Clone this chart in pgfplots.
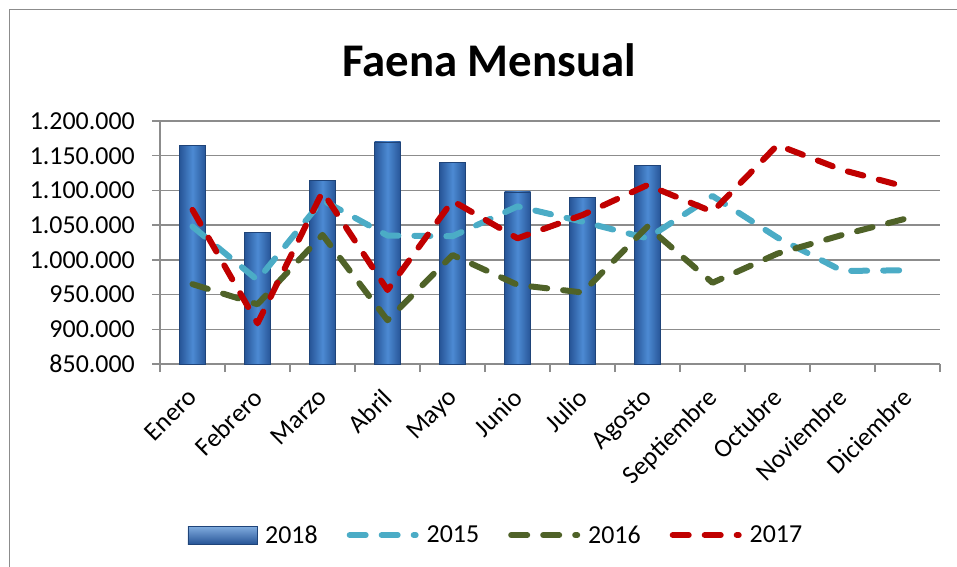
\documentclass[border=0pt]{standalone}
\usepackage{pgfplots}
\pgfplotsset{compat=1.18}
\usepackage{fontspec}
\setmainfont{Carlito}
\definecolor{c2015}{HTML}{4BACC6}
\definecolor{c2016}{HTML}{4F6228}
\definecolor{c2017}{HTML}{C00000}
\definecolor{bardark}{HTML}{275597}
\definecolor{barlight}{HTML}{4C8AD3}
\definecolor{gridc}{HTML}{8C8C8C}
\pgfplotsset{
  barsty/.style={ybar, bar width=26bp, draw=bardark!80!black, line width=0.4bp,
    left color=bardark, right color=bardark, middle color=barlight},
  linesty/.style={#1, line width=6bp, dash pattern=on 16bp off 16bp, line cap=round, line join=round, mark=none,
    legend image code/.code={\draw[#1, line width=6bp, dash pattern=on 16bp off 16bp, line cap=round] (3bp,0bp) -- (69bp,0bp);}},
}
\begin{document}
\begin{tikzpicture}
\useasboundingbox (0bp,0bp) rectangle (957bp,567bp);
\draw[gridc, line width=1.5bp] (9.5bp,-50bp) rectangle (1010bp,557.5bp);
\node[font=\fontsize{47}{56}\selectfont\bfseries] at (489bp,507bp) {Faena Mensual};
\begin{axis}[
  at={(160bp,203bp)}, anchor=south west,
  scale only axis, width=780bp, height=243bp,
  xmin=-0.5, xmax=11.5, ymin=850000, ymax=1200000,
  enlargelimits=false,
  axis lines=left, axis line style={-, draw=gridc, line width=1.5bp},
  ytick={850000,900000,...,1200000},
  scaled y ticks=false,
  yticklabel style={/pgf/number format/fixed, /pgf/number format/precision=0, /pgf/number format/1000 sep={.}, /pgf/number format/assume math mode=true},
  ymajorgrids, major grid style={draw=gridc, line width=1.5bp},
  tick align=outside, major tick length=8bp,
  tick style={draw=gridc, line width=1.5bp},
  xtick={-0.5,0.5,...,11.5},
  x tick label as interval,
  xticklabels={Enero,Febrero,Marzo,Abril,Mayo,Junio,Julio,Agosto,Septiembre,Octubre,Noviembre,Diciembre},
  ticklabel style={font=\fontsize{26}{30}\selectfont},
  xticklabel style={rotate=45, anchor=north east, inner sep=0pt, xshift=-15bp, yshift=-6bp},
  yticklabel style={inner sep=0pt, xshift=-17bp},
  clip=true,
  legend columns=4,
  legend style={at={(0.4295,-0.704)}, anchor=center, draw=none, fill=none,
    font=\fontsize{26}{30}\selectfont,
    nodes={inner sep=0pt},
    /tikz/every odd column/.append style={column sep=8bp},
    /tikz/every even column/.append style={column sep=29bp}},
]
\addplot[barsty,
  legend image code/.code={\path[draw=bardark!80!black, line width=0.4bp, top color=barlight!70!white, bottom color=bardark] (0bp,-9bp) rectangle (69bp,9bp);}]
  coordinates {(0,1165000)};
\addlegendentry{2018}
\addplot[barsty, forget plot] coordinates {(1,1040000)};
\addplot[barsty, forget plot] coordinates {(2,1115000)};
\addplot[barsty, forget plot] coordinates {(3,1170000)};
\addplot[barsty, forget plot] coordinates {(4,1140000)};
\addplot[barsty, forget plot] coordinates {(5,1098000)};
\addplot[barsty, forget plot] coordinates {(6,1090000)};
\addplot[barsty, forget plot] coordinates {(7,1136000)};
\addplot[linesty=c2015]
  coordinates {(0,1048000) (1,971000) (2,1086000) (3,1035000) (4,1034000) (5,1077000) (6,1055000) (7,1031000) (8,1092000) (9,1032000) (10,984000) (11,985000)};
\addlegendentry{2015}
\addplot[linesty=c2016]
  coordinates {(0,965000) (1,936000) (2,1036000) (3,913000) (4,1007000) (5,964000) (6,953000) (7,1048000) (8,967000) (9,1009000) (10,1036000) (11,1060000)};
\addlegendentry{2016}
\addplot[linesty=c2017]
  coordinates {(0,1072000) (1,908500) (2,1098000) (3,956500) (4,1085000) (5,1031000) (6,1064600) (7,1107800) (8,1069300) (9,1165400) (10,1129400) (11,1104500)};
\addlegendentry{2017}
\end{axis}
\end{tikzpicture}
\end{document}
